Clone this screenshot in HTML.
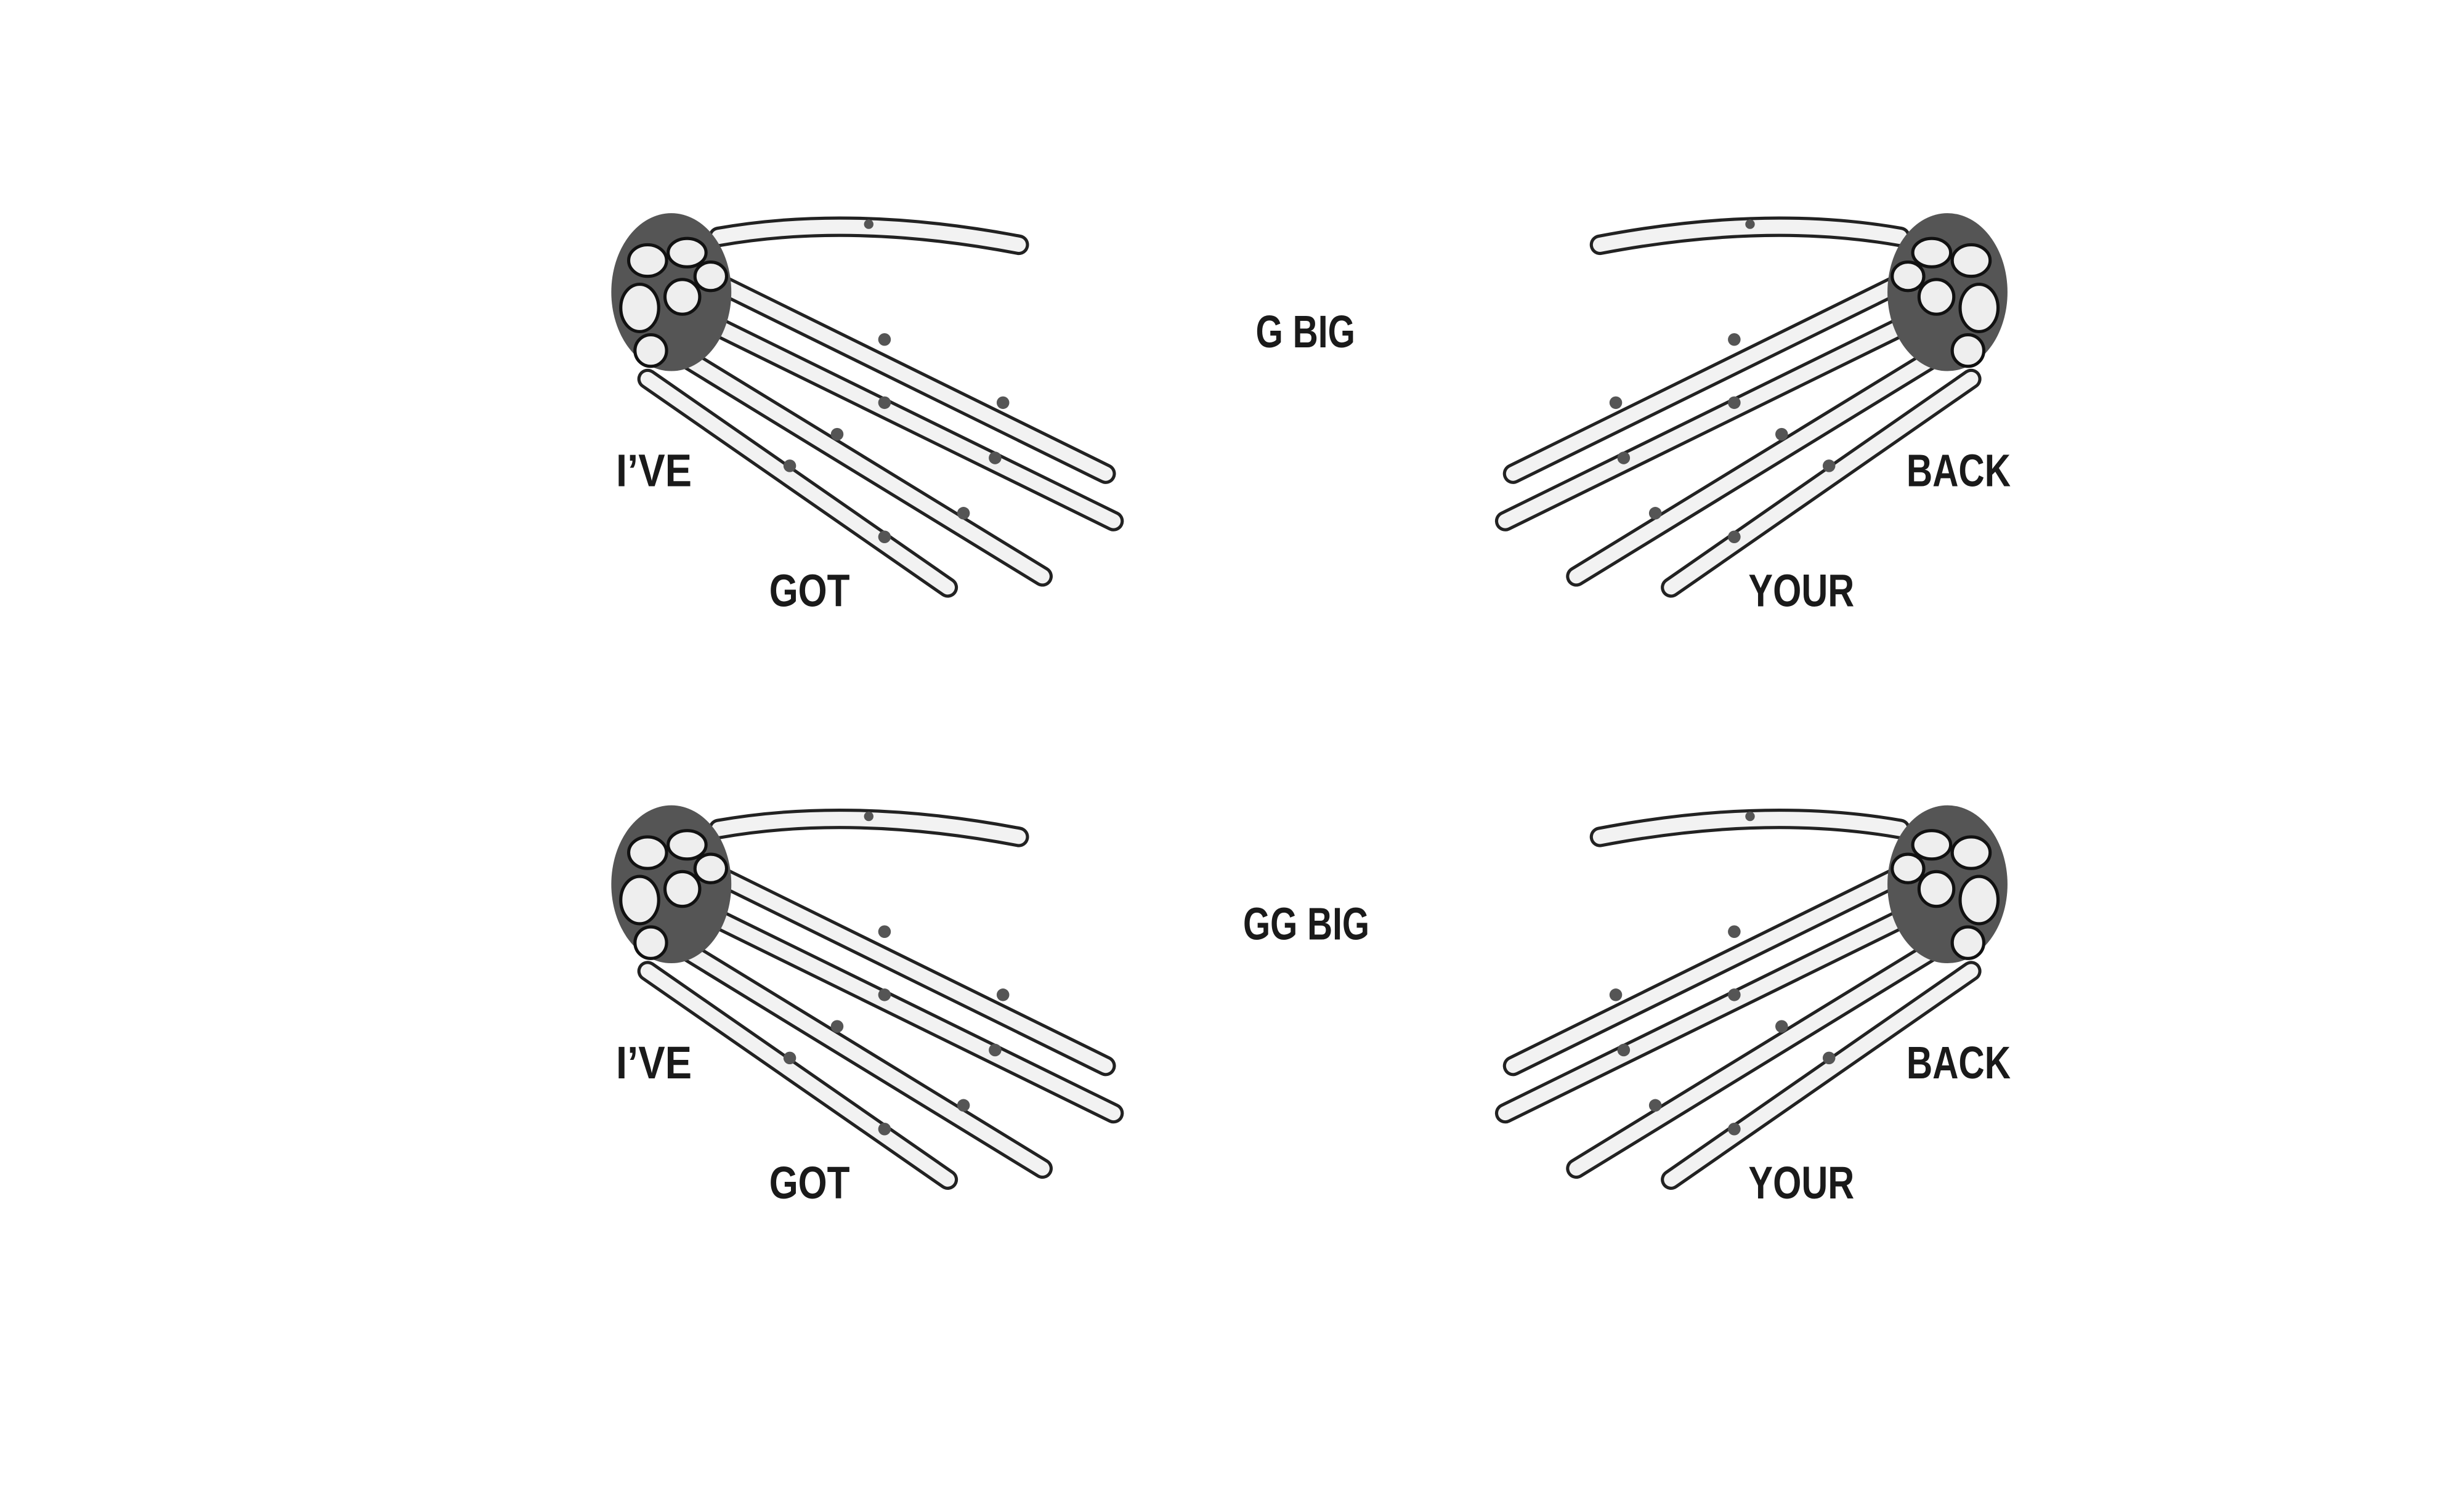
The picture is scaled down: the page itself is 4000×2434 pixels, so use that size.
<!DOCTYPE html>
<html><head><meta charset="utf-8"><style>
html,body{margin:0;padding:0;background:#fff}
svg{display:block}
text{font-family:"Liberation Sans",sans-serif;font-weight:bold;fill:#1a1a1a}
</style></head><body>
<svg width="4000" height="2434" viewBox="0 0 1560 949.3" xmlns="http://www.w3.org/2000/svg">
<defs>
<g id="hand">
  <g stroke-linecap="round" fill="none">
    <g stroke="#222" stroke-width="13">
      <path d="M455 150 Q540 135 645 155"/>
      <path d="M440 172 L700 300"/>
      <path d="M430 195 L705 330"/>
      <path d="M420 218 L660 365"/>
      <path d="M410 240 L600 372"/>
    </g>
    <g stroke="#f2f2f2" stroke-width="9">
      <path d="M455 150 Q540 135 645 155"/>
      <path d="M440 172 L700 300"/>
      <path d="M430 195 L705 330"/>
      <path d="M420 218 L660 365"/>
      <path d="M410 240 L600 372"/>
    </g>
    <g fill="#555" stroke="none">
      <circle cx="560" cy="215" r="4"/><circle cx="635" cy="255" r="4"/>
      <circle cx="560" cy="255" r="4"/><circle cx="630" cy="290" r="4"/>
      <circle cx="530" cy="275" r="4"/><circle cx="610" cy="325" r="4"/>
      <circle cx="500" cy="295" r="4"/><circle cx="560" cy="340" r="4"/>
      <circle cx="550" cy="142" r="3"/>
    </g>
  </g>
  <ellipse cx="425" cy="185" rx="38" ry="50" fill="#555"/>
  <g fill="#eee" stroke="#111" stroke-width="2">
    <ellipse cx="410" cy="165" rx="12" ry="10"/>
    <ellipse cx="435" cy="160" rx="12" ry="9"/>
    <ellipse cx="405" cy="195" rx="12" ry="15"/>
    <ellipse cx="432" cy="188" rx="11" ry="11"/>
    <ellipse cx="412" cy="222" rx="10" ry="10"/>
    <ellipse cx="450" cy="175" rx="10" ry="9"/>
  </g>
</g>
</defs>
<use href="#hand"/>
<use href="#hand" transform="translate(1658,0) scale(-1,1)"/>
<use href="#hand" transform="translate(0,375)"/>
<use href="#hand" transform="translate(1658,375) scale(-1,1)"/>

<g font-size="29" lengthAdjust="spacingAndGlyphs">
<text x="795" y="220" textLength="63" lengthAdjust="spacingAndGlyphs">G BIG</text>
<text x="390" y="308" textLength="48" lengthAdjust="spacingAndGlyphs">I’VE</text>
<text x="487" y="384" textLength="51" lengthAdjust="spacingAndGlyphs">GOT</text>
<text x="1207" y="308" textLength="66" lengthAdjust="spacingAndGlyphs">BACK</text>
<text x="1107" y="384" textLength="67" lengthAdjust="spacingAndGlyphs">YOUR</text>
<text x="787" y="595" textLength="80" lengthAdjust="spacingAndGlyphs">GG BIG</text>
<text x="390" y="683" textLength="48" lengthAdjust="spacingAndGlyphs">I’VE</text>
<text x="487" y="759" textLength="51" lengthAdjust="spacingAndGlyphs">GOT</text>
<text x="1207" y="683" textLength="66" lengthAdjust="spacingAndGlyphs">BACK</text>
<text x="1107" y="759" textLength="67" lengthAdjust="spacingAndGlyphs">YOUR</text>
</g>
</svg>
</body></html>
